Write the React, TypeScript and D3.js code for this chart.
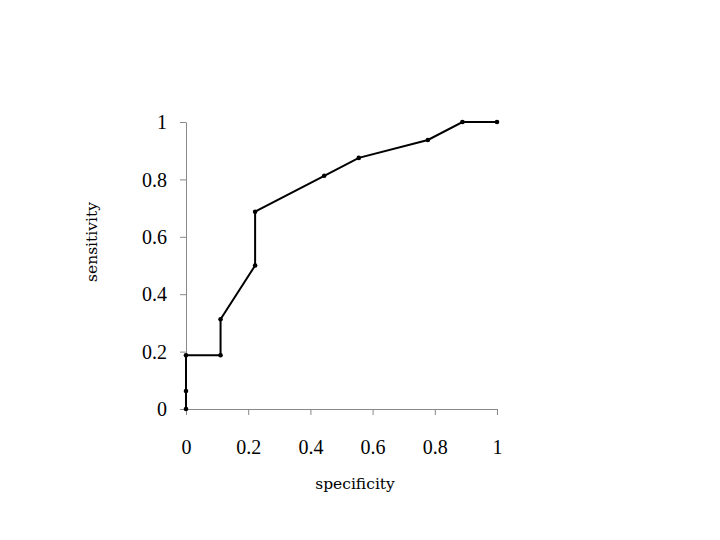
import * as d3 from 'd3';
import { useRef, useEffect } from 'react';

const specificity = [0, 0, 0, 1 / 9, 1 / 9, 2 / 9, 2 / 9, 4 / 9, 5 / 9, 7 / 9, 8 / 9, 1];
const sensitivity = [0, 0.0625, 0.1875, 0.1875, 0.3125, 0.5, 0.6875, 0.8125, 0.875, 0.9375, 1, 1];
const xTicks = [0, 0.2, 0.4, 0.6, 0.8, 1];
const yTicks = [0, 0.2, 0.4, 0.6, 0.8, 1];

const App = () => {
    const graphRef = useRef<SVGSVGElement>(null);

    useEffect(() => {
        const svg = d3.select(graphRef.current);
        svg.selectAll('*').remove();

        const x = d3.scaleLinear().domain([0, 1]).range([186, 497]);
        const y = d3.scaleLinear().domain([0, 1]).range([409, 122]);
        const fmt = (d: number) => (d === 0 || d === 1 ? String(d) : d.toFixed(1));

        // axes
        const xAxis = svg.append('g')
            .attr('transform', 'translate(0,409)')
            .call(d3.axisBottom(x).tickValues(xTicks).tickFormat(d => fmt(+d)).tickSize(6).tickSizeOuter(0).tickPadding(25));
        const yAxis = svg.append('g')
            .attr('transform', 'translate(186,0)')
            .call(d3.axisLeft(y).tickValues(yTicks).tickFormat(d => fmt(+d)).tickSize(6).tickSizeOuter(0).tickPadding(13));

        [xAxis, yAxis].forEach(g => {
            g.select('.domain').attr('stroke', '#888');
            g.selectAll('.tick line').attr('stroke', '#888');
            g.selectAll('.tick text')
                .attr('font-family', '"Liberation Serif", serif')
                .attr('font-size', 20)
                .attr('fill', '#000');
        });
        yAxis.selectAll('.tick text').attr('dy', '0.33em');

        const data = specificity.map((s, i) => ({ s, t: sensitivity[i] }));

        const line = d3.line<{ s: number; t: number }>()
            .x(d => x(d.s))
            .y(d => y(d.t));

        svg.append('path')
            .datum(data)
            .attr('d', line)
            .attr('fill', 'none')
            .attr('stroke', '#000')
            .attr('stroke-width', 2);

        svg.selectAll('circle.pt')
            .data(data)
            .enter().append('circle')
            .attr('class', 'pt')
            .attr('cx', d => x(d.s))
            .attr('cy', d => y(d.t))
            .attr('r', 2.3)
            .attr('fill', '#000');

        // axis titles
        svg.append('text')
            .attr('x', 355)
            .attr('y', 489)
            .attr('text-anchor', 'middle')
            .attr('font-family', '"DejaVu Serif", serif')
            .attr('font-size', 15.5)
            .text('specificity');

        svg.append('text')
            .attr('transform', 'translate(97,242) rotate(-90)')
            .attr('text-anchor', 'middle')
            .attr('font-family', '"DejaVu Serif", serif')
            .attr('font-size', 15.5)
            .text('sensitivity');
    }, []);

    return (
        <svg ref={graphRef} width="720" height="540"
            style={{ position: 'absolute', left: 0, top: 0, background: '#fff' }}></svg>
    );
};

export default App;
